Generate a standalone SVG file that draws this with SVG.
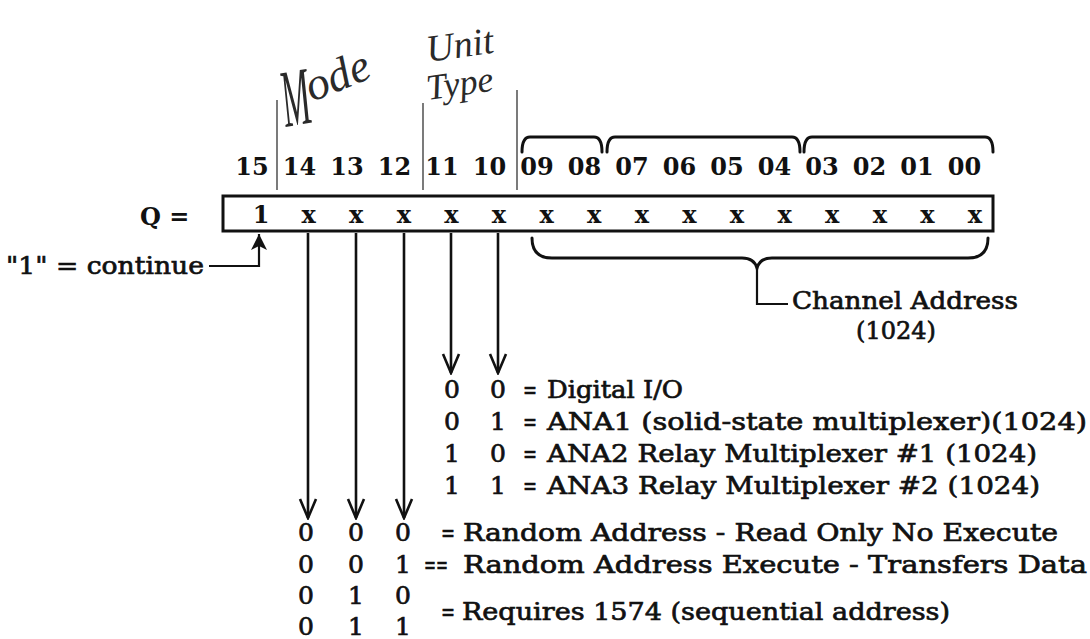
<svg xmlns="http://www.w3.org/2000/svg" width="1090" height="639" viewBox="0 0 1090 639">
<style>
.num{font-family:"DejaVu Serif","Liberation Serif",serif;font-weight:bold;font-size:24px;text-anchor:middle;fill:#111}
.reg{font-family:"DejaVu Serif","Liberation Serif",serif;font-weight:bold;font-size:24px;text-anchor:middle;fill:#111}
.txt{font-family:"DejaVu Serif","Liberation Serif",serif;font-size:25px;fill:#111;stroke:#111;stroke-width:0.7}
.mid{text-anchor:middle}
.hand{font-family:"Liberation Serif","DejaVu Serif",serif;font-style:italic;fill:#2a2a2a}
.div{stroke:#222;stroke-width:1.2;fill:none}
.brk{stroke:#111;stroke-width:3;fill:none;stroke-linecap:round}
.shaft{stroke:#111;stroke-width:2.6;fill:none}
.lead{stroke:#111;stroke-width:2.2;fill:none}
</style>
<defs>
<marker id="vhead" markerUnits="userSpaceOnUse" viewBox="-22 -11 24 22" refX="0" refY="0" markerWidth="24" markerHeight="22" orient="auto">
<path d="M -19,-8 L 0,0 L -19,8" fill="none" stroke="#111" stroke-width="2.6" stroke-linejoin="miter"/>
</marker>
<marker id="solid" markerUnits="userSpaceOnUse" viewBox="-18 -10 20 20" refX="0" refY="0" markerWidth="20" markerHeight="20" orient="auto">
<path d="M -16,-8 L 0,0 L -16,8 L -12,0 Z" fill="#111"/>
</marker>
</defs>
<rect width="1090" height="639" fill="#fff"/>

<g id="handwriting">
<text class="hand" font-size="82" transform="translate(286,127) rotate(-10) scale(0.42,1)">M</text>
<text class="hand" font-size="46" transform="translate(312,102) rotate(-22)">ode</text>
<text class="hand" font-size="38" transform="translate(428,62) rotate(-8)">Unit</text>
<text class="hand" font-size="36" transform="translate(428,100) rotate(-8)">Type</text>
</g>

<g id="field-dividers">
<line class="div" x1="277" y1="100" x2="277" y2="190"/>
<line class="div" x1="423" y1="103" x2="423" y2="190"/>
<line class="div" x1="517" y1="90" x2="517" y2="190"/>
</g>

<g id="channel-brackets">
<path class="brk" d="M 522,152 Q 522,137 530,137 L 594,137 Q 602,137 602,152"/>
<path class="brk" d="M 607,152 Q 607,137 615,137 L 792,137 Q 800,137 800,152"/>
<path class="brk" d="M 804,152 Q 804,137 812,137 L 985,137 Q 993,137 993,152"/>
</g>

<g id="bit-numbers">
<text class="num" x="252" y="175">15</text>
<text class="num" x="299.5" y="175">14</text>
<text class="num" x="347" y="175">13</text>
<text class="num" x="394.5" y="175">12</text>
<text class="num" x="442" y="175">11</text>
<text class="num" x="489.5" y="175">10</text>
<text class="num" x="537" y="175">09</text>
<text class="num" x="584.5" y="175">08</text>
<text class="num" x="632" y="175">07</text>
<text class="num" x="679.5" y="175">06</text>
<text class="num" x="727" y="175">05</text>
<text class="num" x="774.5" y="175">04</text>
<text class="num" x="822" y="175">03</text>
<text class="num" x="869.5" y="175">02</text>
<text class="num" x="917" y="175">01</text>
<text class="num" x="964.5" y="175">00</text>
</g>

<g id="register">
<text class="reg" x="140" y="225" style="text-anchor:start">Q =</text>
<rect x="223" y="196" width="770" height="35" fill="none" stroke="#111" stroke-width="3"/>
<text class="reg" x="261" y="223">1</text>
<text class="reg" x="308.6" y="223">x</text>
<text class="reg" x="356.2" y="223">x</text>
<text class="reg" x="403.8" y="223">x</text>
<text class="reg" x="451.4" y="223">x</text>
<text class="reg" x="499" y="223">x</text>
<text class="reg" x="546.6" y="223">x</text>
<text class="reg" x="594.2" y="223">x</text>
<text class="reg" x="641.8" y="223">x</text>
<text class="reg" x="689.4" y="223">x</text>
<text class="reg" x="737" y="223">x</text>
<text class="reg" x="784.6" y="223">x</text>
<text class="reg" x="832.2" y="223">x</text>
<text class="reg" x="879.8" y="223">x</text>
<text class="reg" x="927.4" y="223">x</text>
<text class="reg" x="975" y="223">x</text>
</g>

<g id="connectors">
<path class="lead" d="M 209,266 L 259,266 L 259,234" marker-end="url(#solid)"/>
<line class="shaft" x1="308" y1="233" x2="308" y2="518" marker-end="url(#vhead)"/>
<line class="shaft" x1="356" y1="233" x2="356" y2="518" marker-end="url(#vhead)"/>
<line class="shaft" x1="404" y1="233" x2="404" y2="518" marker-end="url(#vhead)"/>
<line class="shaft" x1="451" y1="233" x2="451" y2="373" marker-end="url(#vhead)"/>
<line class="shaft" x1="498" y1="233" x2="498" y2="373" marker-end="url(#vhead)"/>
<path class="brk" d="M 532,238 Q 532,258 552,258 L 742,258 Q 754,258 757,268 Q 760,258 772,258 L 968,258 Q 988,258 988,238"/>
<path class="lead" d="M 757,268 L 757,304 L 788,304"/>
</g>

<g id="continue-label">
<text class="txt" x="6" y="274" textLength="198" lengthAdjust="spacingAndGlyphs">"1" = continue</text>
</g>

<g id="channel-label">
<text class="txt" x="792" y="309" textLength="226" lengthAdjust="spacingAndGlyphs">Channel Address</text>
<text class="txt" x="856" y="339" textLength="80" lengthAdjust="spacingAndGlyphs">(1024)</text>
</g>

<g id="unit-type-table">
<text class="txt mid" x="452" y="398">0</text><text class="txt mid" x="498" y="398">0</text><text class="txt mid" x="530" y="398" textLength="14" lengthAdjust="spacingAndGlyphs">=</text>
<text class="txt" x="547" y="398" textLength="136" lengthAdjust="spacingAndGlyphs">Digital I/O</text>
<text class="txt mid" x="452" y="430">0</text><text class="txt mid" x="498" y="430">1</text><text class="txt mid" x="530" y="430" textLength="14" lengthAdjust="spacingAndGlyphs">=</text>
<text class="txt" x="547" y="430" textLength="540" lengthAdjust="spacingAndGlyphs">ANA1 (solid-state multiplexer)(1024)</text>
<text class="txt mid" x="452" y="462">1</text><text class="txt mid" x="498" y="462">0</text><text class="txt mid" x="530" y="462" textLength="14" lengthAdjust="spacingAndGlyphs">=</text>
<text class="txt" x="547" y="462" textLength="490" lengthAdjust="spacingAndGlyphs">ANA2 Relay Multiplexer #1 (1024)</text>
<text class="txt mid" x="452" y="494">1</text><text class="txt mid" x="498" y="494">1</text><text class="txt mid" x="530" y="494" textLength="14" lengthAdjust="spacingAndGlyphs">=</text>
<text class="txt" x="547" y="494" textLength="493" lengthAdjust="spacingAndGlyphs">ANA3 Relay Multiplexer #2 (1024)</text>
</g>

<g id="mode-table">
<text class="txt mid" x="306" y="541">0</text><text class="txt mid" x="356" y="541">0</text><text class="txt mid" x="403" y="541">0</text>
<text class="txt" x="441" y="541" textLength="14" lengthAdjust="spacingAndGlyphs">=</text>
<text class="txt" x="463" y="541" textLength="595" lengthAdjust="spacingAndGlyphs">Random Address - Read Only No Execute</text>
<text class="txt mid" x="306" y="573">0</text><text class="txt mid" x="356" y="573">0</text><text class="txt mid" x="403" y="573">1</text>
<text class="txt" x="424" y="573" textLength="24" lengthAdjust="spacingAndGlyphs">==</text>
<text class="txt" x="463" y="573" textLength="624" lengthAdjust="spacingAndGlyphs">Random Address Execute - Transfers Data</text>
<text class="txt mid" x="306" y="604">0</text><text class="txt mid" x="356" y="604">1</text><text class="txt mid" x="403" y="604">0</text>
<text class="txt mid" x="306" y="635">0</text><text class="txt mid" x="356" y="635">1</text><text class="txt mid" x="403" y="635">1</text>
<text class="txt" x="441" y="620" textLength="14" lengthAdjust="spacingAndGlyphs">=</text>
<text class="txt" x="462" y="620" textLength="488" lengthAdjust="spacingAndGlyphs">Requires 1574 (sequential address)</text>
</g>
</svg>
